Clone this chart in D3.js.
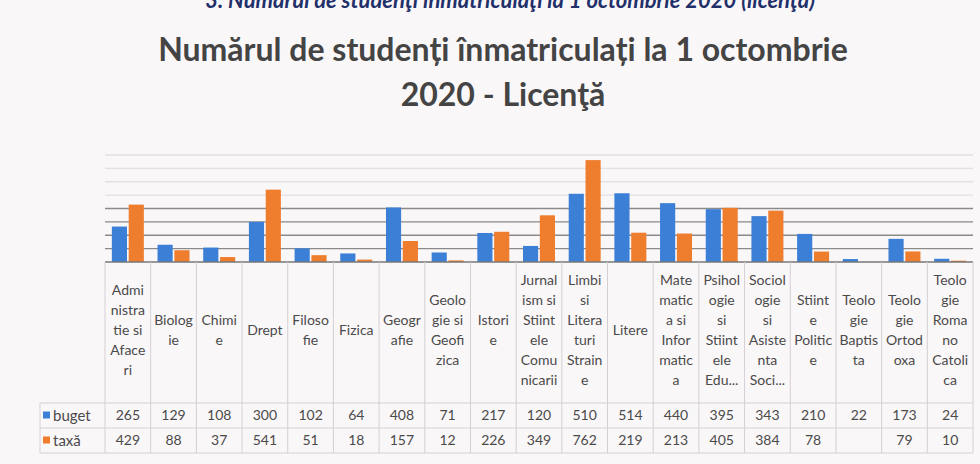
<!DOCTYPE html>
<html lang="ro">
<head>
  <meta charset="utf-8">
  <title>Numărul de studenți înmatriculați</title>
  <style>
    body { margin: 0; background: #faf7f9; }
    svg { display: block; font-family: Lato, "Open Sans", sans-serif; }
  </style>
</head>
<body>
  <div id="chart"></div>
  <script src="https://cdn.jsdelivr.net/npm/d3@7/dist/d3.min.js"></script>
  <script>
    // data
    var categories = ["Administratie si Afaceri", "Biologie", "Chimie", "Drept", "Filosofie", "Fizica",
      "Geografie", "Geologie si Geofizica", "Istorie", "Jurnalism si Stiintele Comunicarii",
      "Limbi si Literaturi Straine", "Litere", "Matematica si Informatica",
      "Psihologie si Stiintele Educatiei", "Sociologie si Asistenta Sociala", "Stiinte Politice",
      "Teologie Baptista", "Teologie Ortodoxa", "Teologie Romano Catolica"];

    // category labels as Excel wrapped them in the table cells
    var tickLabels = [
      ["Admi", "nistra", "tie si", "Aface", "ri"], ["Biolog", "ie"], ["Chimi", "e"], ["Drept"],
      ["Filoso", "fie"], ["Fizica"], ["Geogr", "afie"], ["Geolo", "gie si", "Geofi", "zica"],
      ["Istori", "e"], ["Jurnal", "ism si", "Stiint", "ele", "Comu", "nicarii"],
      ["Limbi", "si", "Litera", "turi", "Strain", "e"], ["Litere"],
      ["Mate", "matic", "a si", "Infor", "matic", "a"], ["Psihol", "ogie", "si", "Stiint", "ele", "Edu..."],
      ["Sociol", "ogie", "si", "Asiste", "nta", "Soci..."], ["Stiint", "e", "Politic", "e"],
      ["Teolo", "gie", "Baptis", "ta"], ["Teolo", "gie", "Ortod", "oxa"],
      ["Teolo", "gie", "Roma", "no", "Catoli", "ca"]
    ];

    var buget = [265, 129, 108, 300, 102, 64, 408, 71, 217, 120, 510, 514, 440, 395, 343, 210, 22, 173, 24];
    var taxa = [429, 88, 37, 541, 51, 18, 157, 12, 226, 349, 762, 219, 213, 405, 384, 78, null, 79, 10];

    var seriesNames = ["buget", "taxă"];
    var seriesColors = ["#3b7fd6", "#ef7d2e"];
    var yTicks = [100, 200, 300, 400, 500, 600, 700, 800];

    var W = 980, H = 464;
    var plotLeft = 105, plotRight = 973, baseY = 262, topY = 155;
    var headerBottom = 403, row1Bottom = 428, row2Bottom = 453, legendLeft = 40;

    var svg = d3.select("#chart").append("svg")
      .attr("width", W)
      .attr("height", H);

    // document caption cut off at the top of the photo
    svg.append("text")
      .attr("x", 815).attr("y", 8)
      .attr("text-anchor", "end")
      .style("font-size", "22px")
      .style("font-weight", "bold")
      .style("font-style", "italic")
      .attr("fill", "#22306a")
      .text("3. Numărul de studenţi înmatriculaţi la 1 octombrie 2020 (licenţă)");

    // title
    var title = svg.append("text")
      .attr("text-anchor", "middle")
      .style("font-size", "32px")
      .style("font-weight", "bold")
      .attr("fill", "#444");
    title.append("tspan").attr("x", 503).attr("y", 61).text("Numărul de studenți înmatriculați la 1 octombrie");
    title.append("tspan").attr("x", 503).attr("y", 106).text("2020 - Licenţă");

    var x = d3.scaleBand()
      .domain(categories)
      .range([plotLeft, plotRight])
      .paddingInner(0.3)
      .paddingOuter(0.15);

    var xSub = d3.scaleBand()
      .domain(seriesNames)
      .range([0, x.bandwidth()])
      .paddingInner(0.1);

    var y = d3.scaleLinear()
      .domain([0, 800])
      .range([baseY, topY]);

    // gridlines (upper ones faded in the photo)
    svg.append("g")
      .selectAll("line")
      .data(yTicks)
      .join("line")
      .attr("x1", plotLeft).attr("x2", plotRight)
      .attr("y1", d => y(d)).attr("y2", d => y(d))
      .attr("stroke", d => d <= 400 ? "#8a8a8a" : "#e4dfe3")
      .attr("stroke-width", 1.3);

    // bars
    var series = [buget, taxa];
    var groups = svg.append("g")
      .selectAll("g")
      .data(categories)
      .join("g")
      .attr("transform", d => "translate(" + x(d) + ",0)");

    groups.selectAll("rect")
      .data((d, i) => seriesNames.map((s, k) => ({ s: s, k: k, v: series[k][i] })).filter(e => e.v != null))
      .join("rect")
      .attr("x", d => xSub(d.s))
      .attr("width", xSub.bandwidth())
      .attr("y", d => y(d.v))
      .attr("height", d => baseY - y(d.v))
      .attr("fill", d => seriesColors[d.k]);

    // axis line
    svg.append("line")
      .attr("x1", plotLeft).attr("x2", plotRight)
      .attr("y1", baseY).attr("y2", baseY)
      .attr("stroke", "#777").attr("stroke-width", 1.5);

    // data table grid
    var colEdges = d3.range(categories.length + 1).map(i => plotLeft + i * (plotRight - plotLeft) / categories.length);
    var grid = svg.append("g").attr("stroke", "#d4cfd3").attr("stroke-width", 1);
    grid.selectAll(".v")
      .data(colEdges)
      .join("line")
      .attr("x1", d => d).attr("x2", d => d)
      .attr("y1", baseY).attr("y2", row2Bottom);
    grid.append("line").attr("x1", legendLeft).attr("x2", legendLeft).attr("y1", headerBottom).attr("y2", row2Bottom);
    [headerBottom, row1Bottom, row2Bottom].forEach(function (yy) {
      grid.append("line").attr("x1", legendLeft).attr("x2", plotRight).attr("y1", yy).attr("y2", yy);
    });

    // category labels
    var lh = 20, midY = 330;
    svg.append("g")
      .selectAll("text")
      .data(categories)
      .join("text")
      .attr("text-anchor", "middle")
      .attr("fill", "#4a4a4a")
      .style("font-size", "14px")
      .each(function (d, i) {
        var lines = tickLabels[i];
        var y0 = midY - (lines.length - 1) * lh / 2;
        d3.select(this).selectAll("tspan")
          .data(lines)
          .join("tspan")
          .attr("x", x(d) + x.bandwidth() / 2)
          .attr("y", (t, j) => y0 + j * lh)
          .attr("dy", "0.35em")
          .text(t => t);
      });

    // value rows + legend keys
    var rowMid = [(headerBottom + row1Bottom) / 2, (row1Bottom + row2Bottom) / 2];
    series.forEach(function (vals, k) {
      svg.append("g")
        .selectAll("text")
        .data(categories)
        .join("text")
        .attr("x", d => x(d) + x.bandwidth() / 2)
        .attr("y", rowMid[k])
        .attr("dy", "0.35em")
        .attr("text-anchor", "middle")
        .attr("fill", "#4a4a4a")
        .style("font-size", "14px")
        .text((d, i) => vals[i] == null ? "" : vals[i]);

      svg.append("rect")
        .attr("x", legendLeft + 3).attr("y", rowMid[k] - 4)
        .attr("width", 7).attr("height", 7)
        .attr("fill", seriesColors[k]);
      svg.append("text")
        .attr("x", legendLeft + 13).attr("y", rowMid[k])
        .attr("dy", "0.35em")
        .attr("fill", "#4a4a4a")
        .style("font-size", "15px")
        .text(seriesNames[k]);
    });
  </script>
</body>
</html>
